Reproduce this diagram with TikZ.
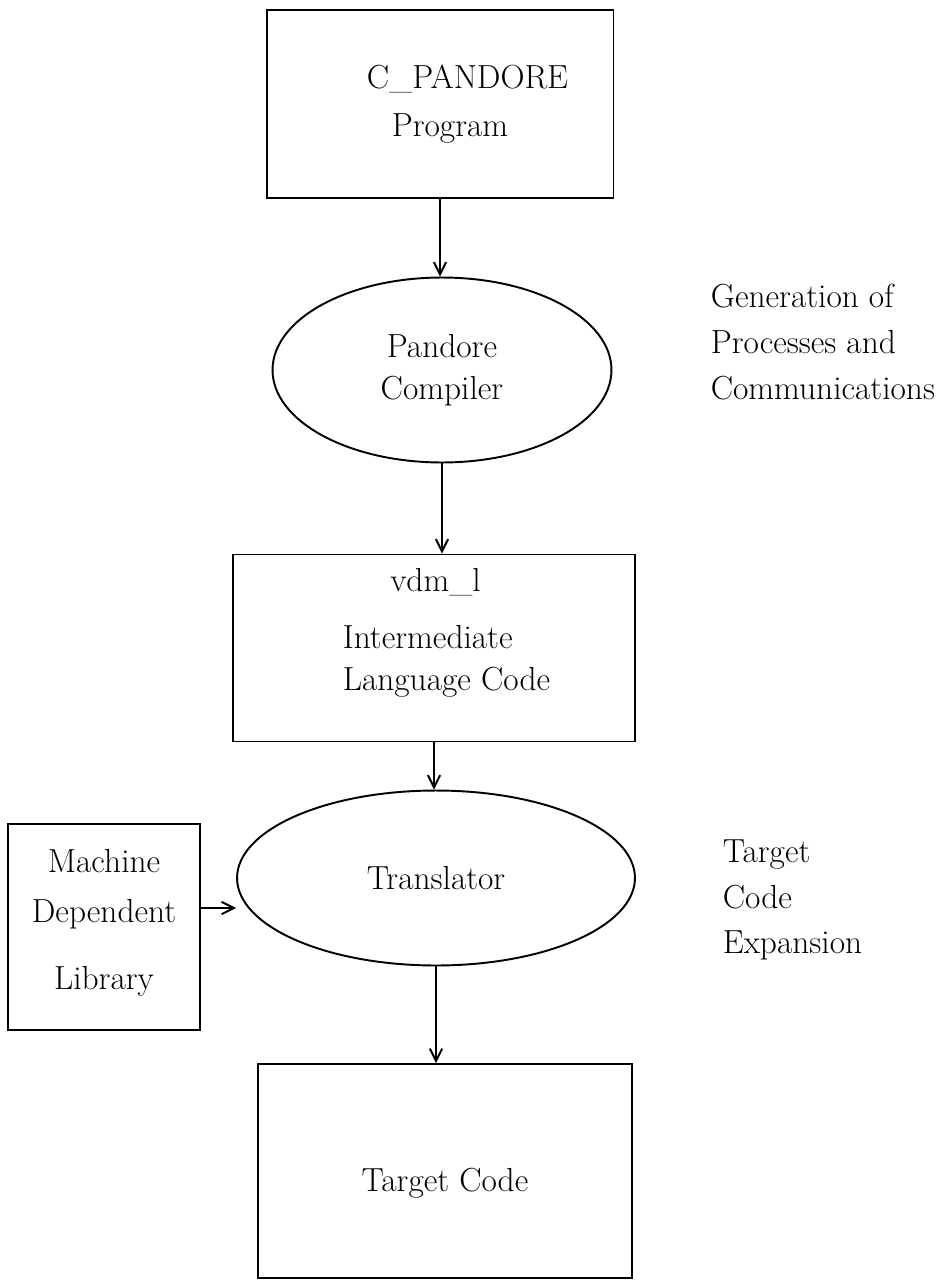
\documentclass[tikz,border=0pt]{standalone}
\usepackage{tikz}
\usetikzlibrary{positioning,arrows.meta,shapes.geometric}

\begin{document}
\begin{tikzpicture}[x=0.02cm,y=-0.02cm,->,>={Straight Barb[length=7pt,width=7pt]},line width=1.1pt]

  
  \tikzstyle{prog}=[rectangle,draw,inner sep=0pt,align=center,font=\fontsize{19}{24}\selectfont]
  \tikzstyle{tool}=[ellipse,draw,inner sep=0pt,align=center,font=\fontsize{19}{24}\selectfont]
  \tikzstyle{note}=[align=left,anchor=west,font=\fontsize{19}{26}\selectfont]

  \useasboundingbox (0,0) rectangle (945,1288);

  
  \node[prog,minimum width=6.94cm,minimum height=3.76cm] (src) at (440,104)
    {\hspace*{1.1cm}C\_PANDORE\\[0.12cm]\hspace*{0.4cm}Program};
  \node[tool,minimum width=6.78cm,minimum height=3.7cm] (cmp) at (442,370) {Pandore\\Compiler};
  \node[prog,align=left,text depth=0.75cm,minimum width=8.04cm,minimum height=3.74cm] (ilc) at (434,648)
    {\hspace*{1.45cm}vdm\_l\\[0.3cm]\hspace*{0.5cm}Intermediate\\\hspace*{0.5cm}Language Code};
  \node[tool,minimum width=7.96cm,minimum height=3.5cm] (trn) at (436,878) {Translator};
  \node[prog,text depth=0.3cm,minimum width=3.84cm,minimum height=4.12cm] (lib) at (104,927)
    {Machine\\[0.16cm]Dependent\\[0.5cm]Library};
  \node[prog,text height=0.95cm,minimum width=7.48cm,minimum height=4.28cm] (tgt) at (445,1171) {Target Code};

  
  \draw (src.south) -- (src.south |- cmp.north);
  \draw (cmp.south) -- (cmp.south |- ilc.north);
  \draw (ilc.south) -- (ilc.south |- trn.north);
  \draw (trn.south) -- (trn.south |- tgt.north);
  \draw (lib.east) ++(0,-19) coordinate (q) -- (q -| trn.west);

  
  \node[note] (gen) at (704,342) {Generation of\\Processes and\\Communications};
  \node[note] (exp) at (716,900) {Target\\Code\\Expansion};

\end{tikzpicture}
\end{document}
